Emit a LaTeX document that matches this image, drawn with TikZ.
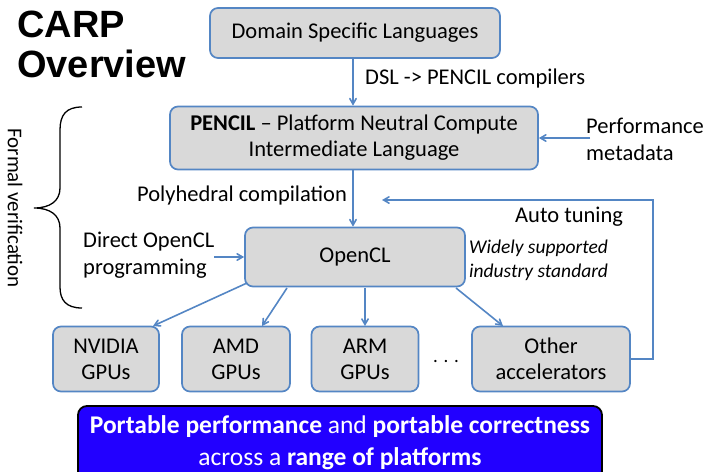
\documentclass[tikz,border=0pt]{standalone}
\usepackage{fontspec}
\setmainfont{Carlito}
\newfontfamily\headfont{Liberation Sans}
\usetikzlibrary{shapes,arrows}
\definecolor{boxline}{RGB}{84,134,196}
\definecolor{boxfill}{RGB}{217,217,217}
\definecolor{banner}{RGB}{34,0,255}
\begin{document}
\begin{tikzpicture}[x=1pt,y=-1pt,>=angle 60,
  box/.style={draw=boxline,fill=boxfill,line width=1.7pt,rounded corners=8pt,align=center,inner sep=0pt,font=\fontsize{22.5}{26}\selectfont},
  lbl/.style={align=left,anchor=west,inner sep=0pt,font=\fontsize{22.5}{27}\selectfont},
  flow/.style={draw=boxline,line width=1.6pt,->}]
\useasboundingbox (0,0) rectangle (719,471);
% title and brace
\node[anchor=north west,align=left,inner sep=0pt,font=\headfont\bfseries\fontsize{38}{40}\selectfont] (title) at (17,11) {CARP\\Overview};
\draw[line width=1.3pt] (82,107) .. controls (66,107) and (60,115) .. (60,130) -- (60,188) .. controls (60,201) and (50,208) .. (34,208) .. controls (50,208) and (60,215) .. (60,228) -- (60,287) .. controls (60,300) and (66,308) .. (82,308);
\node[rotate=-90,inner sep=0pt,font=\fontsize{21}{23}\selectfont] (formal) at (15,208) {Formal verification};
% boxes
\node[box,minimum width=290pt,minimum height=50pt] (dsl) at (355,33) {Domain Specific Languages};
\node[box,minimum width=368pt,minimum height=63pt] (pencil) at (354,138) {\textbf{PENCIL} -- Platform Neutral Compute\\Intermediate Language};
\node[box,minimum width=220pt,minimum height=59pt] (opencl) at (355,257) {OpenCL};
\node[box,minimum width=106pt,minimum height=65pt] (nvidia) at (106,359) {NVIDIA\\GPUs};
\node[box,minimum width=108pt,minimum height=65pt] (amd) at (236,359) {AMD\\GPUs};
\node[box,minimum width=107pt,minimum height=65pt] (arm) at (365,359) {ARM\\GPUs};
\node[box,minimum width=158pt,minimum height=65pt] (other) at (551,359) {Other\\accelerators};
\node[inner sep=0pt,font=\fontsize{19}{23}\selectfont] (dots) at (446,361) {. . .};
% labels
\node[lbl] (dslcomp) at (365,78) {DSL -> PENCIL compilers};
\node[lbl] (perf) at (586,139) {Performance\\metadata};
\node[lbl] (poly) at (137,195) {Polyhedral compilation};
\node[lbl] (autotune) at (515,217) {Auto tuning};
\node[lbl] (direct) at (83,255) {Direct OpenCL\\programming};
\node[lbl,font=\itshape\fontsize{19.5}{24}\selectfont] (widely) at (469,260) {Widely supported\\industry standard};
% connectors
\draw[flow] (dsl.south -| 353,0) -- (pencil.north -| 353,0);
\draw[flow] (pencil.south -| 353,0) -- (opencl.north -| 353,0);
\draw[flow] (perf.west |- pencil.east) ++(4,0) -- (pencil.east);
\draw[flow] (direct.east |- opencl.west) -- (opencl.west);
\draw[flow] (247,283) -- (153,326);
\draw[flow] (287,288) -- (262,326);
\draw[flow] (365,288) -- (365,326);
\draw[flow] (456,288) -- (503,326);
\coordinate (tunetip) at (382,200);
\draw[flow] (other.east) -| (653,200) -- (tunetip);
% banner
\node[draw=black,fill=banner,line width=1.8pt,rounded corners=9pt,minimum width=524pt,minimum height=74pt,align=center,text=white,font=\fontsize{25.5}{32}\selectfont] (banner) at (340,443) {\textbf{Portable performance} and \textbf{portable correctness}\\across a \textbf{range of platforms}};
\end{tikzpicture}
\end{document}
